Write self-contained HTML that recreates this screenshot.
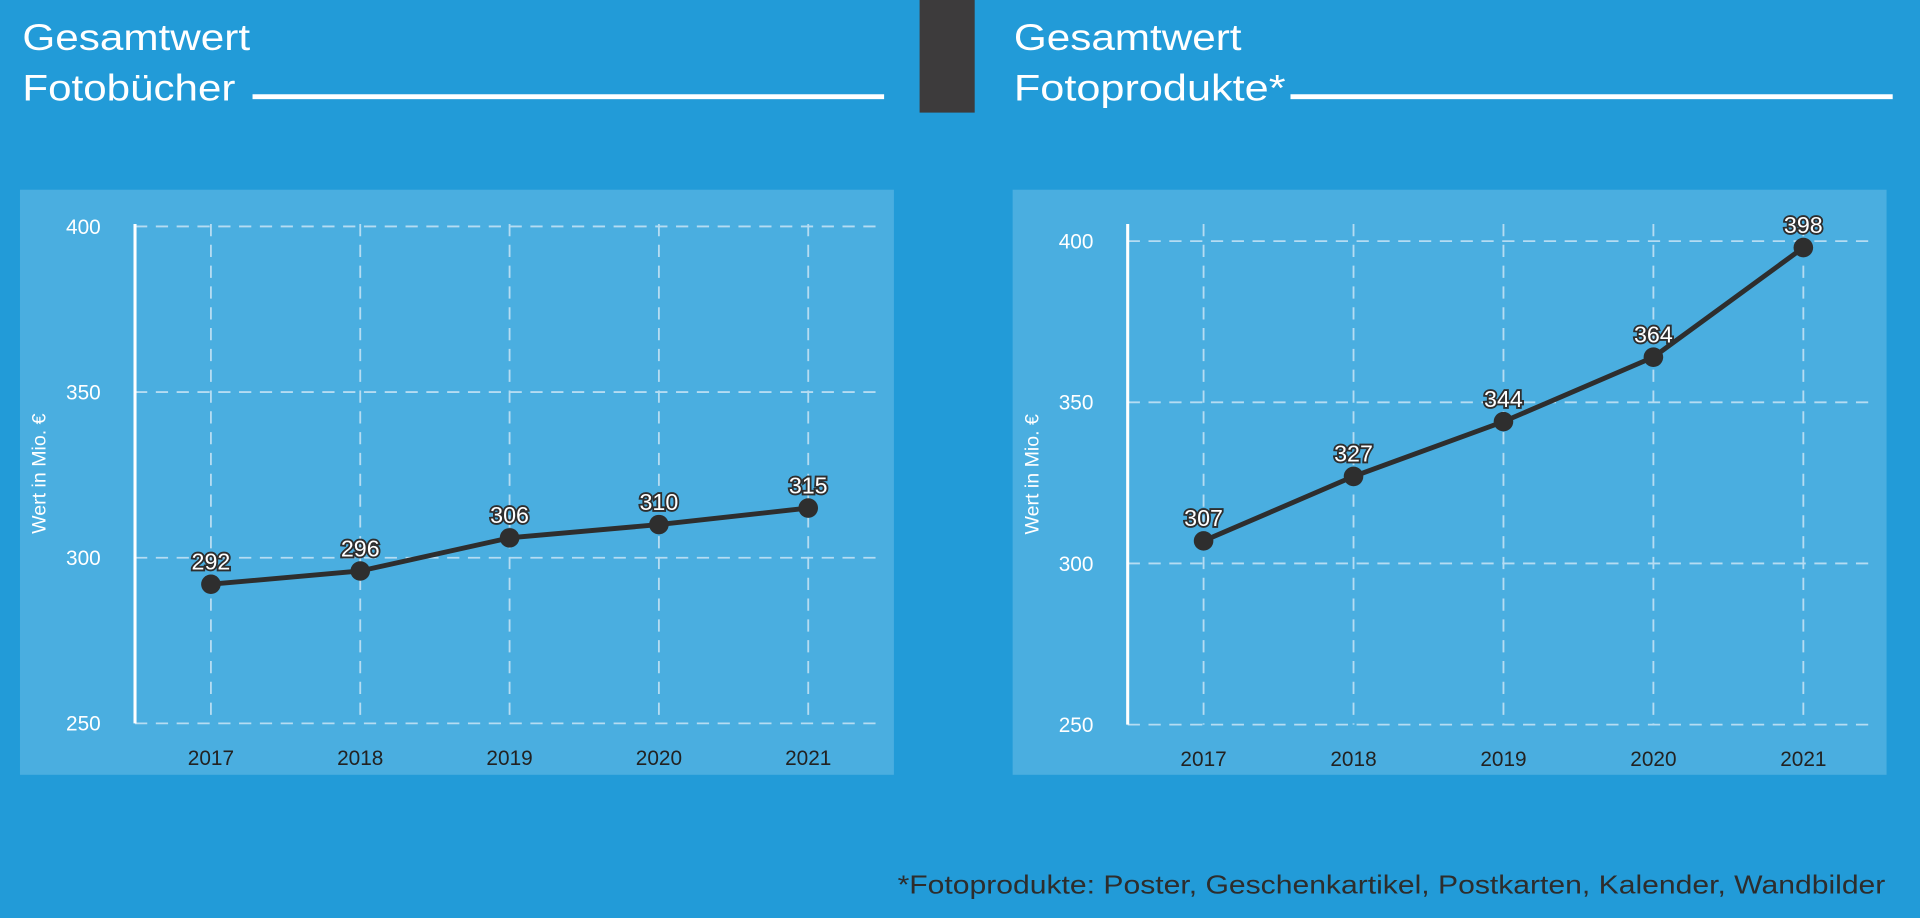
<!DOCTYPE html>
<html><head><meta charset="utf-8"><style>
html,body{margin:0;padding:0;background:#229bd8;overflow:hidden}
svg{display:block}
text{font-family:"Liberation Sans",sans-serif}
</style></head><body>
<svg id="s" width="1920" height="918" viewBox="0 0 1568 750" xmlns="http://www.w3.org/2000/svg">
<rect width="1568" height="750" fill="#229bd8"/>
<rect x="751" y="0" width="45" height="92" fill="#3d3b3c"/>
<g fill="#fff" font-size="30">
<text x="18" y="41" textLength="186" lengthAdjust="spacingAndGlyphs">Gesamtwert</text>
<text x="18" y="82" textLength="174" lengthAdjust="spacingAndGlyphs">Fotobücher</text>
<text x="828" y="41" textLength="186" lengthAdjust="spacingAndGlyphs">Gesamtwert</text>
<text x="828" y="82" textLength="222" lengthAdjust="spacingAndGlyphs">Fotoprodukte*</text>
</g>
<rect x="206" y="77" width="516" height="4" fill="#fff"/>
<rect x="1054" y="77" width="492" height="4" fill="#fff"/>
<rect x="16" y="155" width="714" height="478" fill="#4aaee0"/>
<rect x="827" y="155" width="714" height="478" fill="#4aaee0"/>
<text x="733" y="730" font-size="21" fill="#2d2d2d" textLength="807" lengthAdjust="spacingAndGlyphs">*Fotoprodukte: Poster, Geschenkartikel, Postkarten, Kalender, Wandbilder</text>
<g id="g"></g>
</svg>
<script>
var g=document.getElementById('g'),h='';
function chart(ax,x0,dx,y400,y250,top,gx1,vals){
 var yy=v=>y250-(v-250)/150*(y250-y400);
 [250,300,350,400].forEach(v=>{var y=yy(v);
  if(v>250)h+=`<line x1="${ax}" x2="${gx1}" y1="${y}" y2="${y}" stroke="#b5dcf2" stroke-width="1.5" stroke-dasharray="10,7"/>`;
  h+=`<text x="${ax-28}" y="${y+6}" text-anchor="end" font-size="17" fill="#fff">${v}</text>`;});
 h+=`<line x1="${ax}" x2="${gx1}" y1="${y250}" y2="${y250}" stroke="#b5dcf2" stroke-width="1.5" stroke-dasharray="10,7"/>`;
 for(var i=0;i<5;i++){var x=x0+i*dx;
  h+=`<line x1="${x}" x2="${x}" y1="${top}" y2="${y250}" stroke="#b5dcf2" stroke-width="1.5" stroke-dasharray="10,7"/>`;
  h+=`<text x="${x}" y="${y250+34}" text-anchor="middle" font-size="17" fill="#222">${2017+i}</text>`;}
 h+=`<line x1="${ax}" x2="${ax}" y1="${top}" y2="${y250}" stroke="#fff" stroke-width="2.5"/>`;
 h+=`<text transform="translate(${ax-73},${(top+y250)/2}) rotate(-90)" text-anchor="middle" font-size="16" fill="#fff">Wert in Mio. €</text>`;
 var pts=vals.map((v,i)=>[x0+i*dx,yy(v)]);
 h+=`<polyline points="${pts.map(p=>p.join(',')).join(' ')}" fill="none" stroke="#2e2e2e" stroke-width="4"/>`;
 pts.forEach((p,i)=>{h+=`<circle cx="${p[0]}" cy="${p[1]}" r="8" fill="#2e2e2e"/>`;
  h+=`<text x="${p[0]}" y="${p[1]-12}" text-anchor="middle" font-size="19" fill="#fff" stroke="#2e2e2e" stroke-width="3" paint-order="stroke">${vals[i]}</text>`;});
}
chart(110,172,122,185,591,183,722,[292,296,306,310,315]);
chart(921,983,122.5,197,592,183,1532,[307,327,344,364,398]);
g.innerHTML=h;
</script>
</body></html>
